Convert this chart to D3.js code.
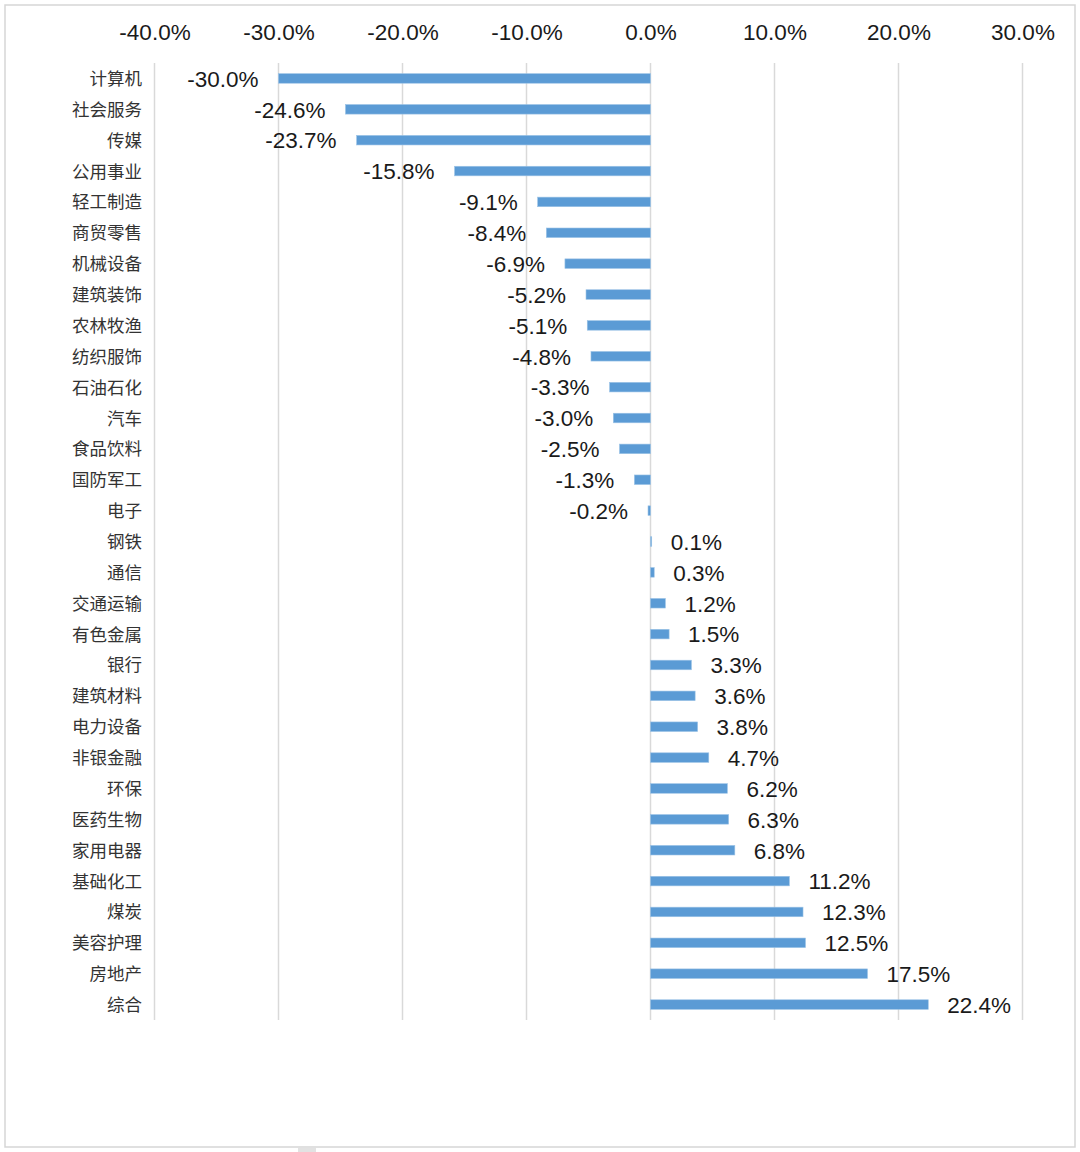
<!DOCTYPE html>
<html><head><meta charset="utf-8">
<script src="https://cdn.jsdelivr.net/npm/d3@7"></script>
<style>
html,body{margin:0;padding:0;background:#fff;}
svg{display:block;}
</style></head>
<body>
<svg id="chart" width="1080" height="1152"></svg>
<script>
const categories = ["计算机","社会服务","传媒","公用事业","轻工制造","商贸零售","机械设备","建筑装饰","农林牧渔","纺织服饰","石油石化","汽车","食品饮料","国防军工","电子","钢铁","通信","交通运输","有色金属","银行","建筑材料","电力设备","非银金融","环保","医药生物","家用电器","基础化工","煤炭","美容护理","房地产","综合"];
const values = [-30.0,-24.6,-23.7,-15.8,-9.1,-8.4,-6.9,-5.2,-5.1,-4.8,-3.3,-3.0,-2.5,-1.3,-0.2,0.1,0.3,1.2,1.5,3.3,3.6,3.8,4.7,6.2,6.3,6.8,11.2,12.3,12.5,17.5,22.4];
const tickValues = [-40,-30,-20,-10,0,10,20,30];

const svg = d3.select("#chart");
const latin = "'Liberation Sans', Arial, Helvetica, sans-serif";
const cjk = "'Noto Sans CJK SC', 'Noto Sans', sans-serif";

// frame
svg.append("rect").attr("x",5).attr("y",5).attr("width",1070).attr("height",1142)
  .attr("fill","#fff").attr("stroke","#d6d6d6").attr("stroke-width",1.5);
svg.append("rect").attr("x",298).attr("y",1148).attr("width",18).attr("height",4).attr("fill","#e2e2e2");

const x = d3.scaleLinear().domain([-40,30]).range([154.5,1022.5]);
const y = d3.scaleBand().domain(categories).range([63,1020]).paddingInner(0.69).paddingOuter(0.345);

// gridlines
svg.append("g").selectAll("line").data(tickValues).join("line")
  .attr("x1",d=>x(d)).attr("x2",d=>x(d)).attr("y1",63).attr("y2",1020)
  .attr("stroke","#d9d9d9").attr("stroke-width",1.5);

// top axis
const axis = d3.axisTop(x).tickValues(tickValues).tickSize(0).tickFormat(d=>d.toFixed(1)+"%");
const ag = svg.append("g").attr("transform","translate(0,43)").call(axis);
ag.select(".domain").remove();
ag.selectAll("text").attr("dy",0).attr("font-family",latin).attr("font-size",22.5).attr("fill","#1a1a1a");

// bars
const data = categories.map((c,i)=>({c, v: values[i]}));
svg.append("g").selectAll("rect").data(data).join("rect")
  .attr("x",d=>x(Math.min(0,d.v))).attr("width",d=>Math.abs(x(d.v)-x(0)))
  .attr("y",d=>y(d.c)).attr("height",y.bandwidth())
  .attr("fill","#5b9bd5").attr("stroke","#9cc3e6").attr("stroke-width",0.6);

// category labels
svg.append("g").selectAll("text").data(data).join("text")
  .attr("x",142).attr("y",d=>y(d.c)+y.bandwidth()/2+6.5)
  .attr("text-anchor","end").attr("font-family",cjk).attr("font-size",17.5).attr("fill","#333")
  .text(d=>d.c);

// value labels
svg.append("g").selectAll("text").data(data).join("text")
  .attr("x",d=> d.v<0 ? x(d.v)-20 : x(d.v)+19)
  .attr("y",d=>y(d.c)+y.bandwidth()/2+8.3)
  .attr("text-anchor",d=>d.v<0?"end":"start")
  .attr("font-family",latin).attr("font-size",22.5).attr("fill","#1a1a1a")
  .text(d=>d.v.toFixed(1)+"%");
</script>
</body></html>
